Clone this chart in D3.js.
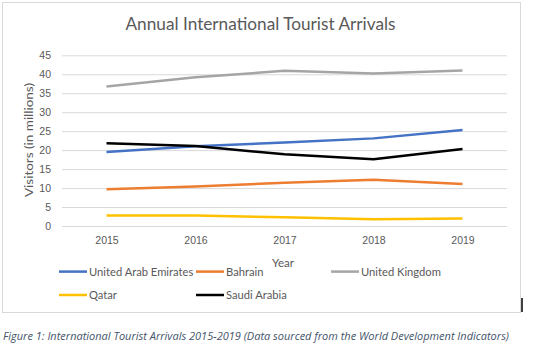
<!DOCTYPE html>
<html lang="en">
<head>
<meta charset="UTF-8">
<title>Annual International Tourist Arrivals</title>
<style>
    body {
        margin: 0;
        background: #fff;
        overflow: hidden;
    }
    svg {
        display: block;
        font-family: Lato, "Open Sans", sans-serif;
    }
    .grid line {
        stroke: #d9d9d9;
        stroke-width: 1px;
    }
    .tick text {
        fill: #595959;
        font-size: 10.5px;
    }
</style>
</head>
<body>
<svg width="534" height="347"></svg>

<script src="https://d3js.org/d3.v7.min.js"></script>
<script>
    // values in millions of visitors
    const years = [2015, 2016, 2017, 2018, 2019];
    const uae = [19.5, 21.0, 22.0, 23.1, 25.3];
    const bahrain = [9.7, 10.4, 11.4, 12.2, 11.1];
    const uk = [36.8, 39.2, 40.9, 40.2, 41.0];
    const qatar = [2.8, 2.8, 2.3, 1.8, 2.0];
    const saudi = [21.8, 21.1, 18.9, 17.6, 20.3];
    const yTicks = [0, 5, 10, 15, 20, 25, 30, 35, 40, 45];

    const series = [
        { name: "United Arab Emirates", color: "#4472c4", values: uae },
        { name: "Bahrain", color: "#ed7d31", values: bahrain },
        { name: "United Kingdom", color: "#a5a5a5", values: uk },
        { name: "Qatar", color: "#ffc000", values: qatar },
        { name: "Saudi Arabia", color: "#000000", values: saudi }
    ];

    const svg = d3.select("svg");

    // chart frame
    svg.append("rect")
        .attr("x", 2.5)
        .attr("y", 2.5)
        .attr("width", 518)
        .attr("height", 310)
        .attr("fill", "#fff")
        .attr("stroke", "#d9d9d9");

    const plot = { left: 62, right: 507, top: 55.3, bottom: 226 };

    const x = d3.scalePoint()
        .domain(years)
        .range([plot.left, plot.right])
        .padding(0.5);

    const y = d3.scaleLinear()
        .domain([0, 45])
        .range([plot.bottom, plot.top]);

    // gridlines + y labels
    svg.append("g")
        .attr("class", "grid")
        .attr("transform", `translate(${plot.left},0)`)
        .call(d3.axisLeft(y)
            .tickValues(yTicks)
            .tickSize(-(plot.right - plot.left))
            .tickPadding(11))
        .call(g => g.select(".domain").remove());

    // year labels
    svg.append("g")
        .attr("transform", `translate(0,${plot.bottom})`)
        .call(d3.axisBottom(x).tickSize(0).tickPadding(11))
        .call(g => g.select(".domain").remove());

    const line = d3.line()
        .x((d, i) => x(years[i]))
        .y(d => y(d));

    svg.append("g")
        .selectAll("path")
        .data(series)
        .join("path")
        .attr("fill", "none")
        .attr("stroke", d => d.color)
        .attr("stroke-width", 2.5)
        .attr("stroke-linejoin", "round")
        .attr("d", d => line(d.values));

    // titles
    svg.append("text")
        .attr("x", 260.5)
        .attr("y", 30)
        .attr("text-anchor", "middle")
        .attr("fill", "#595959")
        .attr("font-size", 18)
        .attr("textLength", 270)
        .attr("lengthAdjust", "spacingAndGlyphs")
        .text("Annual International Tourist Arrivals");

    svg.append("text")
        .attr("transform", "translate(33,140) rotate(-90)")
        .attr("text-anchor", "middle")
        .attr("fill", "#595959")
        .attr("font-size", 12)
        .attr("textLength", 114)
        .attr("lengthAdjust", "spacingAndGlyphs")
        .text("Visitors (in millions)");

    svg.append("text")
        .attr("x", 283)
        .attr("y", 266.5)
        .attr("text-anchor", "middle")
        .attr("fill", "#595959")
        .attr("font-size", 11.5)
        .text("Year");

    // legend, three per row
    const legendCols = [59, 196, 331];
    const legendRows = [271.6, 295];

    const legend = svg.append("g")
        .selectAll("g")
        .data(series)
        .join("g")
        .attr("transform", (d, i) => `translate(${legendCols[i % 3]},${legendRows[Math.floor(i / 3)]})`);

    legend.append("line")
        .attr("x1", 0)
        .attr("x2", 28)
        .attr("stroke", d => d.color)
        .attr("stroke-width", 2.5);

    legend.append("text")
        .attr("x", 30)
        .attr("dy", "0.35em")
        .attr("fill", "#595959")
        .attr("font-size", 11.2)
        .text(d => d.name);

    // caption under the chart
    svg.append("text")
        .attr("x", 3)
        .attr("y", 340)
        .attr("fill", "#44546a")
        .attr("font-family", "'Open Sans', sans-serif")
        .attr("font-size", 11)
        .attr("font-style", "italic")
        .attr("textLength", 506)
        .attr("lengthAdjust", "spacingAndGlyphs")
        .text("Figure 1: International Tourist Arrivals 2015-2019 (Data sourced from the World Development Indicators)");

    // stray cursor mark at the frame edge
    svg.append("line")
        .attr("x1", 522)
        .attr("x2", 522)
        .attr("y1", 298)
        .attr("y2", 312)
        .attr("stroke", "#000")
        .attr("stroke-width", 1.5);
</script>
</body>
</html>
